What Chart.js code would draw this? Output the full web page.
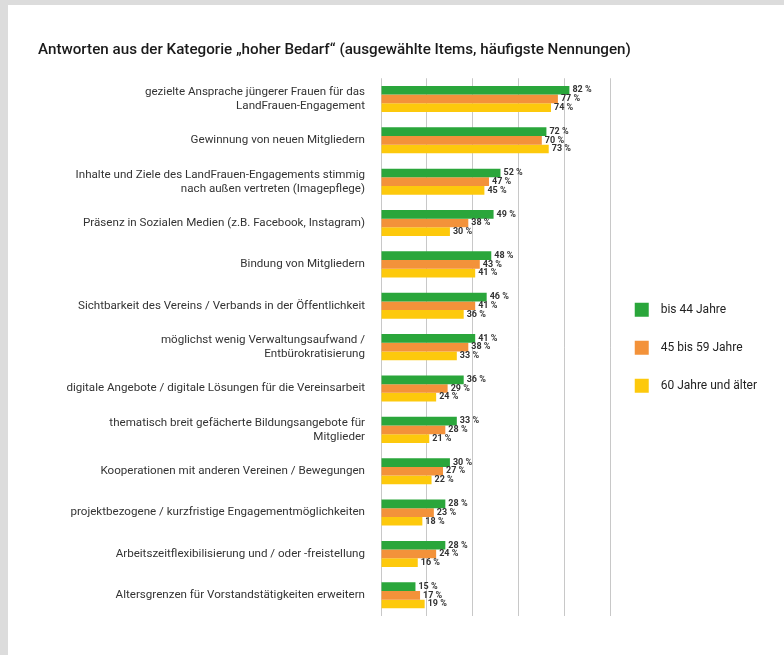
<!DOCTYPE html>
<html>
<head>
<meta charset="utf-8">
<script src="https://cdn.jsdelivr.net/npm/chart.js@4"></script>
<style>
  html, body { margin: 0; padding: 0; background: #dcdcdc; }
  #page {
    position: absolute; left: 8px; top: 5px; width: 776px; height: 650px;
    background: #fff;
  }
</style>
</head>
<body>
<div id="page"><canvas id="chart"></canvas></div>
<script>
// Antworten "hoher Bedarf" nach Altersgruppe
const items = [
    ['gezielte Ansprache jüngerer Frauen für das', 'LandFrauen-Engagement'],
    'Gewinnung von neuen Mitgliedern',
    ['Inhalte und Ziele des LandFrauen-Engagements stimmig', 'nach außen vertreten (Imagepflege)'],
    'Präsenz in Sozialen Medien (z.B. Facebook, Instagram)',
    'Bindung von Mitgliedern',
    'Sichtbarkeit des Vereins / Verbands in der Öffentlichkeit',
    ['möglichst wenig Verwaltungsaufwand /', 'Entbürokratisierung'],
    'digitale Angebote / digitale Lösungen für die Vereinsarbeit',
    ['thematisch breit gefächerte Bildungsangebote für', 'Mitglieder'],
    'Kooperationen mit anderen Vereinen / Bewegungen',
    'projektbezogene / kurzfristige Engagementmöglichkeiten',
    'Arbeitszeitflexibilisierung und / oder -freistellung',
    'Altersgrenzen für Vorstandstätigkeiten erweitern'
];
const seriesNames = ['bis 44 Jahre', '45 bis 59 Jahre', '60 Jahre und älter'];
const bis44 = [82, 72, 52, 49, 48, 46, 41, 36, 33, 30, 28, 28, 15];
const bis59 = [77, 70, 47, 38, 43, 41, 38, 29, 28, 27, 23, 24, 17];
const ab60 = [74, 73, 45, 30, 41, 36, 33, 24, 21, 22, 18, 16, 19];
const xTicks = [0, 20, 40, 60, 80, 100];

const FONT = "'Roboto', sans-serif";

// draws "82 %" right of every bar
const valueLabels = {
    id: 'valueLabels',
    afterDatasetsDraw(chart) {
        const ctx = chart.ctx;
        ctx.save();
        ctx.font = 'bold 9px ' + FONT;
        ctx.fillStyle = '#333';
        ctx.textAlign = 'left';
        ctx.textBaseline = 'middle';
        chart.data.datasets.forEach((ds, i) => {
            chart.getDatasetMeta(i).data.forEach((bar, j) => {
                ctx.fillText(ds.data[j] + ' %', bar.x + 3, bar.y);
            });
        });
        ctx.restore();
    }
};

new Chart(document.getElementById('chart'), {
    type: 'bar',
    data: {
        labels: items,
        datasets: [
            { label: seriesNames[0], data: bis44, backgroundColor: '#2aa63b' },
            { label: seriesNames[1], data: bis59, backgroundColor: '#f3923a' },
            { label: seriesNames[2], data: ab60, backgroundColor: '#fdc90c' }
        ]
    },
    options: {
        indexAxis: 'y',
        responsive: true,
        maintainAspectRatio: false,
        animation: false,
        categoryPercentage: 0.63,
        barPercentage: 1,
        layout: { padding: { left: 30, right: 17, bottom: 39 } },
        scales: {
            x: {
                min: 0,
                max: 100,
                afterBuildTicks: (scale) => { scale.ticks = xTicks.map(v => ({ value: v })); },
                ticks: { display: false },
                grid: { color: '#c8c8c8', drawTicks: false },
                border: { display: false }
            },
            y: {
                afterFit: (scale) => { scale.width = 343; },
                ticks: {
                    color: '#333',
                    padding: 16,
                    font: { family: FONT, size: 11.6 }
                },
                grid: { display: false, drawTicks: false },
                border: { display: false }
            }
        },
        plugins: {
            title: {
                display: true,
                text: 'Antworten aus der Kategorie „hoher Bedarf“ (ausgewählte Items, häufigste Nennungen)',
                align: 'start',
                color: '#1a1a1a',
                font: { family: FONT, size: 15.2, weight: '500' },
                padding: { top: 36, bottom: 19 }
            },
            legend: {
                position: 'right',
                // empty title only pushes the items down a bit
                title: { display: true, text: '', font: { size: 12 }, padding: { top: 60, bottom: 0 } },
                labels: {
                    color: '#222',
                    boxWidth: 14,
                    boxHeight: 14,
                    padding: 24,
                    font: { family: FONT, size: 12 },
                    generateLabels: (chart) => Chart.defaults.plugins.legend.labels.generateLabels(chart)
                        .map(item => Object.assign(item, { text: '  ' + item.text }))
                }
            },
            tooltip: { enabled: false }
        }
    },
    plugins: [valueLabels]
});
</script>
</body>
</html>
